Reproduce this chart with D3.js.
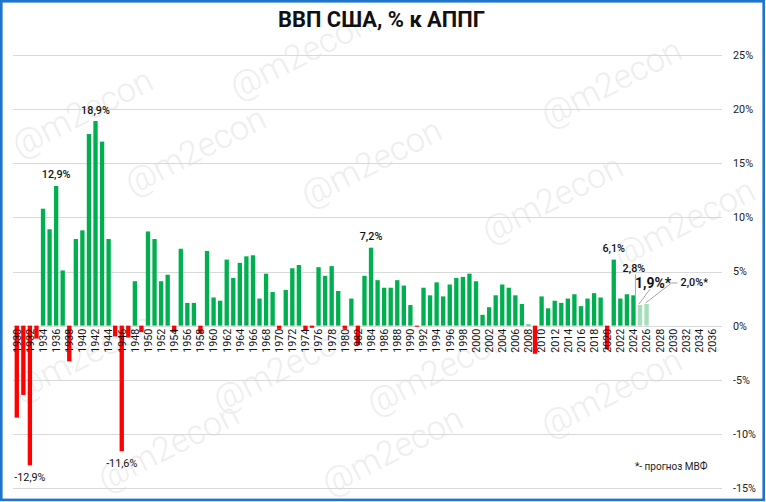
<!DOCTYPE html>
<html><head><meta charset="utf-8">
<script src="https://cdn.jsdelivr.net/npm/d3@7/dist/d3.min.js"></script>
<style>
html,body{margin:0;padding:0;background:#fff;}
svg{display:block;font-family:Roboto,"Noto Sans",sans-serif;}
</style></head>
<body><svg id="c" width="766" height="502"></svg>
<script>
// ---------- DATA ----------
const titleText = "ВВП США, % к АППГ";
const footnoteText = "*- прогноз МВФ";
const watermarkText = "@m2econ";
const firstYear = 1930;
const lastYear = 2037;               // last (empty) category on the axis
const actualValues = [
  -8.5,-6.4,-12.9,-1.2,10.8,8.9,12.9,5.1,-3.3,8.0,      // 1930-1939
  8.8,17.7,18.9,17.0,8.0,-1.0,-11.6,-1.1,4.1,-0.6,      // 1940-1949
  8.7,8.0,4.1,4.7,-0.6,7.1,2.1,2.1,-0.7,6.9,            // 1950-1959
  2.6,2.3,6.1,4.4,5.8,6.4,6.5,2.5,4.8,3.1,              // 1960-1969
  -0.3,3.3,5.3,5.6,-0.5,-0.2,5.4,4.6,5.5,3.2,           // 1970-1979
  -0.3,2.5,-1.8,4.6,7.2,4.2,3.5,3.5,4.2,3.7,            // 1980-1989
  1.9,-0.1,3.5,2.8,4.0,2.7,3.8,4.4,4.5,4.8,             // 1990-1999
  4.1,1.0,1.7,2.8,3.8,3.5,2.8,2.0,0.1,-2.6,             // 2000-2009
  2.7,1.6,2.3,2.1,2.5,2.9,1.8,2.5,3.0,2.6,              // 2010-2019
  -2.2,6.1,2.5,2.9,2.8                                  // 2020-2024
];
const forecastYears = [2025, 2026];
const forecastValues = [1.9, 2.0];
const yTickValues = [-15,-10,-5,0,5,10,15,20,25];
const xTickStep = 2;
const plainLabelYears = [1932, 1936, 1942, 1946, 1984, 2021];
const leaderLabelYear = 2024;

// ---------- SETUP ----------
const W = 766, H = 502;
const svg = d3.select("#c");
const years = d3.range(firstYear, lastYear + 1);
const actual = actualValues.map((v, i) => ({year: firstYear + i, value: v}));
const forecast = forecastYears.map((y, i) => ({year: y, value: forecastValues[i]}));
const xTickYears = years.filter(y => (y - firstYear) % xTickStep === 0 && y <= 2036);

const ru = d3.formatLocale({decimal: ",", thousands: "\u00a0", grouping: [3], currency: ["", ""], minus: "-"});
const f1 = ru.format(".1f");
const pct = v => f1(v) + "%";

const x = d3.scaleBand().domain(years).range([13.5, 722]).paddingInner(0.34).paddingOuter(0.17);
const y = d3.scaleLinear().domain([-15, 25]).range([488, 55]);
const cx = yr => x(yr) + x.bandwidth() / 2;

svg.append("rect").attr("width", W).attr("height", H).attr("fill", "#fff");

// watermarks (faint, behind the chart)
const wm = [[300,54],[82,112],[195,150],[371,162],[611,82],[552,198],[684,222],[82,356],[283,367],[437,370],[611,392],[168,446],[392,450]];
svg.append("g").selectAll("text").data(wm).join("text")
  .attr("transform", d => `translate(${d[0]},${d[1]}) rotate(-27)`)
  .attr("text-anchor", "middle").attr("dy", "0.35em")
  .attr("font-size", 34).attr("font-weight", 300)
  .attr("fill", "#eeeeee").text(watermarkText);

// gridlines
svg.append("g").selectAll("line").data(yTickValues).join("line")
  .attr("x1", 13).attr("x2", 722)
  .attr("y1", d => Math.round(y(d)) + 0.5).attr("y2", d => Math.round(y(d)) + 0.5)
  .attr("stroke", "#d9d9d9").attr("stroke-width", 1);

// bars
const barRect = (sel) => sel
  .attr("x", d => x(d.year)).attr("width", x.bandwidth())
  .attr("y", d => y(Math.max(0, d.value)))
  .attr("height", d => Math.abs(y(d.value) - y(0)));
svg.append("g").selectAll("rect").data(actual).join("rect")
  .call(barRect).attr("fill", d => d.value >= 0 ? "#00b050" : "#ff0000");
svg.append("g").selectAll("rect").data(forecast).join("rect")
  .call(barRect).attr("fill", "#a3e0b9");

// x axis labels (rotated)
const xAxis = d3.axisBottom(x).tickValues(xTickYears).tickSize(0).tickPadding(0);
const gx = svg.append("g").attr("transform", `translate(0,${y(0)})`).call(xAxis);
gx.select(".domain").remove();
gx.selectAll("text")
  .attr("transform", "rotate(-90)").attr("text-anchor", "end")
  .attr("x", -3).attr("y", 0).attr("dy", "0.36em")
  .attr("font-family", "Roboto,sans-serif").attr("font-size", 10.7).attr("fill", "#111");

// y axis labels (right)
const yAxis = d3.axisRight(y).tickValues(yTickValues).tickFormat(d => d + "%").tickSize(0).tickPadding(0);
const gy = svg.append("g").attr("transform", "translate(733,0)").call(yAxis);
gy.select(".domain").remove();
gy.selectAll("text").attr("font-family", "Roboto,sans-serif").attr("font-size", 10.8).attr("fill", "#222");

// data labels
const lab = svg.append("g").attr("font-family", "Roboto,sans-serif").attr("fill", "#111");
const plain = actual.filter(d => plainLabelYears.includes(d.year));
lab.selectAll("text.p").data(plain).join("text").attr("class", "p")
  .attr("x", d => cx(d.year)).attr("text-anchor", "middle")
  .attr("y", d => d.value >= 0 ? y(d.value) - 7.5 : y(d.value) + 16)
  .attr("font-size", 10.8).attr("font-weight", d => d.value >= 0 ? 500 : 400)
  .text(d => pct(d.value));

// 2024 label with leader
const d24 = actual.find(d => d.year === leaderLabelYear);
svg.append("line").attr("x1", cx(d24.year) + 2).attr("x2", cx(d24.year) + 2)
  .attr("y1", y(d24.value) - 21).attr("y2", y(d24.value)).attr("stroke", "#a6a6a6").attr("stroke-width", 1);
lab.append("text").attr("x", cx(d24.year) + 0.5).attr("y", y(d24.value) - 23.5)
  .attr("text-anchor", "middle").attr("font-size", 10.8).attr("font-weight", 500).text(pct(d24.value));

// forecast labels with leaders
const f25 = forecast[0], f26 = forecast[1];
svg.append("polyline")
  .attr("points", `${cx(f25.year)-1},${y(f25.value)-1} ${cx(f25.year)+10},${y(f25.value)-16}`)
  .attr("fill", "none").attr("stroke", "#a6a6a6");
svg.append("polyline")
  .attr("points", `${cx(f26.year)-1},${y(f26.value)-1} ${cx(f26.year)+25},${y(f26.value)-21} ${cx(f26.year)+31},${y(f26.value)-21}`)
  .attr("fill", "none").attr("stroke", "#a6a6a6");
lab.append("text").attr("x", cx(f25.year) - 5).attr("y", y(f25.value) - 17)
  .attr("font-size", 14).attr("font-weight", 700).text(pct(f25.value) + "*");
lab.append("text").attr("x", cx(f26.year) + 34).attr("y", y(f26.value) - 17.5)
  .attr("font-size", 10.8).attr("font-weight", 500).text(pct(f26.value) + "*");

// title
const title = svg.append("text").attr("x", 381.5).attr("y", 27)
  .attr("text-anchor", "middle").attr("font-family", "Roboto,sans-serif")
  .attr("font-weight", 700).attr("font-size", 18).attr("fill", "#111").text(titleText);
const tw = title.node().getBBox().width;
title.attr("font-size", 18 * 207 / tw);

// footnote
svg.append("text").attr("x", 635).attr("y", 470).attr("font-family", "Roboto,sans-serif")
  .attr("font-size", 10).attr("fill", "#222").text(footnoteText);

// frame
svg.append("rect").attr("x", 1.3).attr("y", 1.3).attr("width", 762.4).attr("height", 498.6)
  .attr("fill", "none").attr("stroke", "#1f74cc").attr("stroke-width", 2.6);
</script></body></html>
